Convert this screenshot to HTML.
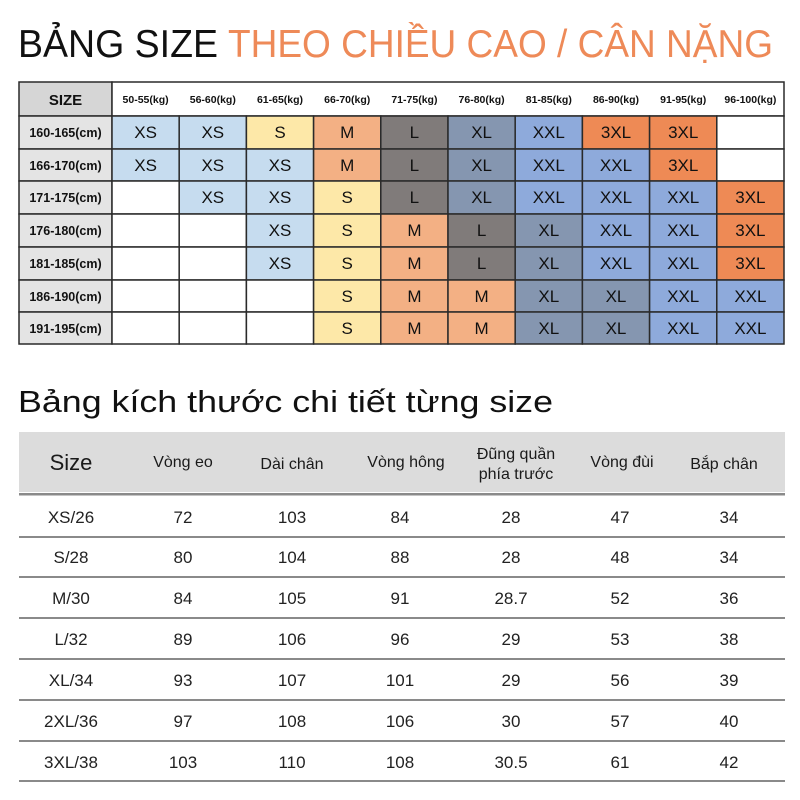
<!DOCTYPE html>
<html><head><meta charset="utf-8"><style>
html,body{margin:0;padding:0;background:#fff;width:800px;height:800px;overflow:hidden}
svg text{font-family:"Liberation Sans","DejaVu Sans",sans-serif}
</style></head><body>
<svg width="800" height="800" viewBox="0 0 800 800" xmlns="http://www.w3.org/2000/svg">
<text x="18" y="57" font-size="39" fill="#111" textLength="200" lengthAdjust="spacingAndGlyphs">BẢNG SIZE</text>
<text x="228" y="57" font-size="39" fill="#ee8a58" textLength="545" lengthAdjust="spacingAndGlyphs">THEO CHIỀU CAO / CÂN NẶNG</text>

<g stroke="#2a2a2a" stroke-width="1.5">
<rect x="19" y="82" width="93" height="34" fill="#d6d6d6"/>
<rect x="19" y="116" width="93" height="33" fill="#e4e4e4"/>
<rect x="19" y="149" width="93" height="32" fill="#e4e4e4"/>
<rect x="19" y="181" width="93" height="33" fill="#e4e4e4"/>
<rect x="19" y="214" width="93" height="33" fill="#e4e4e4"/>
<rect x="19" y="247" width="93" height="33" fill="#e4e4e4"/>
<rect x="19" y="280" width="93" height="32" fill="#e4e4e4"/>
<rect x="19" y="312" width="93" height="32" fill="#e4e4e4"/>
<rect x="112" y="82" width="672" height="34" fill="#fff"/>
</g>
<g stroke="#2a2a2a" stroke-width="1.5">
<rect x="112" y="116" width="67.2" height="33" fill="#c6dcef"/>
<rect x="179.2" y="116" width="67.2" height="33" fill="#c6dcef"/>
<rect x="246.4" y="116" width="67.2" height="33" fill="#fde8a8"/>
<rect x="313.6" y="116" width="67.2" height="33" fill="#f3b084"/>
<rect x="380.8" y="116" width="67.2" height="33" fill="#807b7a"/>
<rect x="448" y="116" width="67.2" height="33" fill="#8596b0"/>
<rect x="515.2" y="116" width="67.2" height="33" fill="#8eaadb"/>
<rect x="582.4" y="116" width="67.2" height="33" fill="#ee8a55"/>
<rect x="649.6" y="116" width="67.2" height="33" fill="#ee8a55"/>
<rect x="716.8" y="116" width="67.2" height="33" fill="#fff"/>
<rect x="112" y="149" width="67.2" height="32" fill="#c6dcef"/>
<rect x="179.2" y="149" width="67.2" height="32" fill="#c6dcef"/>
<rect x="246.4" y="149" width="67.2" height="32" fill="#c6dcef"/>
<rect x="313.6" y="149" width="67.2" height="32" fill="#f3b084"/>
<rect x="380.8" y="149" width="67.2" height="32" fill="#807b7a"/>
<rect x="448" y="149" width="67.2" height="32" fill="#8596b0"/>
<rect x="515.2" y="149" width="67.2" height="32" fill="#8eaadb"/>
<rect x="582.4" y="149" width="67.2" height="32" fill="#8eaadb"/>
<rect x="649.6" y="149" width="67.2" height="32" fill="#ee8a55"/>
<rect x="716.8" y="149" width="67.2" height="32" fill="#fff"/>
<rect x="112" y="181" width="67.2" height="33" fill="#fff"/>
<rect x="179.2" y="181" width="67.2" height="33" fill="#c6dcef"/>
<rect x="246.4" y="181" width="67.2" height="33" fill="#c6dcef"/>
<rect x="313.6" y="181" width="67.2" height="33" fill="#fde8a8"/>
<rect x="380.8" y="181" width="67.2" height="33" fill="#807b7a"/>
<rect x="448" y="181" width="67.2" height="33" fill="#8596b0"/>
<rect x="515.2" y="181" width="67.2" height="33" fill="#8eaadb"/>
<rect x="582.4" y="181" width="67.2" height="33" fill="#8eaadb"/>
<rect x="649.6" y="181" width="67.2" height="33" fill="#8eaadb"/>
<rect x="716.8" y="181" width="67.2" height="33" fill="#ee8a55"/>
<rect x="112" y="214" width="67.2" height="33" fill="#fff"/>
<rect x="179.2" y="214" width="67.2" height="33" fill="#fff"/>
<rect x="246.4" y="214" width="67.2" height="33" fill="#c6dcef"/>
<rect x="313.6" y="214" width="67.2" height="33" fill="#fde8a8"/>
<rect x="380.8" y="214" width="67.2" height="33" fill="#f3b084"/>
<rect x="448" y="214" width="67.2" height="33" fill="#807b7a"/>
<rect x="515.2" y="214" width="67.2" height="33" fill="#8596b0"/>
<rect x="582.4" y="214" width="67.2" height="33" fill="#8eaadb"/>
<rect x="649.6" y="214" width="67.2" height="33" fill="#8eaadb"/>
<rect x="716.8" y="214" width="67.2" height="33" fill="#ee8a55"/>
<rect x="112" y="247" width="67.2" height="33" fill="#fff"/>
<rect x="179.2" y="247" width="67.2" height="33" fill="#fff"/>
<rect x="246.4" y="247" width="67.2" height="33" fill="#c6dcef"/>
<rect x="313.6" y="247" width="67.2" height="33" fill="#fde8a8"/>
<rect x="380.8" y="247" width="67.2" height="33" fill="#f3b084"/>
<rect x="448" y="247" width="67.2" height="33" fill="#807b7a"/>
<rect x="515.2" y="247" width="67.2" height="33" fill="#8596b0"/>
<rect x="582.4" y="247" width="67.2" height="33" fill="#8eaadb"/>
<rect x="649.6" y="247" width="67.2" height="33" fill="#8eaadb"/>
<rect x="716.8" y="247" width="67.2" height="33" fill="#ee8a55"/>
<rect x="112" y="280" width="67.2" height="32" fill="#fff"/>
<rect x="179.2" y="280" width="67.2" height="32" fill="#fff"/>
<rect x="246.4" y="280" width="67.2" height="32" fill="#fff"/>
<rect x="313.6" y="280" width="67.2" height="32" fill="#fde8a8"/>
<rect x="380.8" y="280" width="67.2" height="32" fill="#f3b084"/>
<rect x="448" y="280" width="67.2" height="32" fill="#f3b084"/>
<rect x="515.2" y="280" width="67.2" height="32" fill="#8596b0"/>
<rect x="582.4" y="280" width="67.2" height="32" fill="#8596b0"/>
<rect x="649.6" y="280" width="67.2" height="32" fill="#8eaadb"/>
<rect x="716.8" y="280" width="67.2" height="32" fill="#8eaadb"/>
<rect x="112" y="312" width="67.2" height="32" fill="#fff"/>
<rect x="179.2" y="312" width="67.2" height="32" fill="#fff"/>
<rect x="246.4" y="312" width="67.2" height="32" fill="#fff"/>
<rect x="313.6" y="312" width="67.2" height="32" fill="#fde8a8"/>
<rect x="380.8" y="312" width="67.2" height="32" fill="#f3b084"/>
<rect x="448" y="312" width="67.2" height="32" fill="#f3b084"/>
<rect x="515.2" y="312" width="67.2" height="32" fill="#8596b0"/>
<rect x="582.4" y="312" width="67.2" height="32" fill="#8596b0"/>
<rect x="649.6" y="312" width="67.2" height="32" fill="#8eaadb"/>
<rect x="716.8" y="312" width="67.2" height="32" fill="#8eaadb"/>
</g>

<g font-weight="bold" fill="#111" text-anchor="middle">
<text x="65.5" y="105" font-size="15">SIZE</text>
<g font-size="10.5">
<text x="145.6" y="103">50-55(kg)</text><text x="212.8" y="103">56-60(kg)</text><text x="280" y="103">61-65(kg)</text><text x="347.2" y="103">66-70(kg)</text><text x="414.4" y="103">71-75(kg)</text><text x="481.6" y="103">76-80(kg)</text><text x="548.8" y="103">81-85(kg)</text><text x="616" y="103">86-90(kg)</text><text x="683.2" y="103">91-95(kg)</text><text x="750.4" y="103">96-100(kg)</text>
</g>
<g font-size="12.5">
<text x="65.5" y="137">160-165(cm)</text><text x="65.5" y="170">166-170(cm)</text><text x="65.5" y="202">171-175(cm)</text><text x="65.5" y="235">176-180(cm)</text><text x="65.5" y="268">181-185(cm)</text><text x="65.5" y="301">186-190(cm)</text><text x="65.5" y="333">191-195(cm)</text>
</g>
</g>
<g font-size="17" fill="#111" text-anchor="middle">
<text x="145.6" y="138">XS</text><text x="212.8" y="138">XS</text><text x="280" y="138">S</text><text x="347.2" y="138">M</text><text x="414.4" y="138">L</text><text x="481.6" y="138">XL</text><text x="548.8" y="138">XXL</text><text x="616" y="138">3XL</text><text x="683.2" y="138">3XL</text>
<text x="145.6" y="171">XS</text><text x="212.8" y="171">XS</text><text x="280" y="171">XS</text><text x="347.2" y="171">M</text><text x="414.4" y="171">L</text><text x="481.6" y="171">XL</text><text x="548.8" y="171">XXL</text><text x="616" y="171">XXL</text><text x="683.2" y="171">3XL</text>
<text x="212.8" y="203">XS</text><text x="280" y="203">XS</text><text x="347.2" y="203">S</text><text x="414.4" y="203">L</text><text x="481.6" y="203">XL</text><text x="548.8" y="203">XXL</text><text x="616" y="203">XXL</text><text x="683.2" y="203">XXL</text><text x="750.4" y="203">3XL</text>
<text x="280" y="236">XS</text><text x="347.2" y="236">S</text><text x="414.4" y="236">M</text><text x="481.6" y="236">L</text><text x="548.8" y="236">XL</text><text x="616" y="236">XXL</text><text x="683.2" y="236">XXL</text><text x="750.4" y="236">3XL</text>
<text x="280" y="269">XS</text><text x="347.2" y="269">S</text><text x="414.4" y="269">M</text><text x="481.6" y="269">L</text><text x="548.8" y="269">XL</text><text x="616" y="269">XXL</text><text x="683.2" y="269">XXL</text><text x="750.4" y="269">3XL</text>
<text x="347.2" y="302">S</text><text x="414.4" y="302">M</text><text x="481.6" y="302">M</text><text x="548.8" y="302">XL</text><text x="616" y="302">XL</text><text x="683.2" y="302">XXL</text><text x="750.4" y="302">XXL</text>
<text x="347.2" y="334">S</text><text x="414.4" y="334">M</text><text x="481.6" y="334">M</text><text x="548.8" y="334">XL</text><text x="616" y="334">XL</text><text x="683.2" y="334">XXL</text><text x="750.4" y="334">XXL</text>
</g>

<text x="18" y="412" font-size="31" fill="#111" textLength="535" lengthAdjust="spacingAndGlyphs">Bảng kích thước chi tiết từng size</text>

<rect x="19" y="432" width="766" height="60" fill="#dcdcdc"/>
<g fill="#8a8a8a">
<rect x="19" y="493" width="766" height="2.5"/>
<rect x="19" y="536" width="766" height="2"/>
<rect x="19" y="576" width="766" height="2"/>
<rect x="19" y="617" width="766" height="2"/>
<rect x="19" y="658" width="766" height="2"/>
<rect x="19" y="699" width="766" height="2"/>
<rect x="19" y="740" width="766" height="2"/>
<rect x="19" y="780" width="766" height="2"/>
</g>
<g fill="#1a1a1a" text-anchor="middle">
<text x="71" y="470" font-size="22">Size</text>
<g font-size="16">
<text x="183" y="467">Vòng eo</text>
<text x="292" y="469">Dài chân</text>
<text x="406" y="467">Vòng hông</text>
<text x="516" y="459">Đũng quần</text>
<text x="516" y="479">phía trước</text>
<text x="622" y="467">Vòng đùi</text>
<text x="724" y="469">Bắp chân</text>
</g>
</g>
<g fill="#222" text-anchor="middle" font-size="17">
<text x="71" y="523">XS/26</text><text x="183" y="523">72</text><text x="292" y="523">103</text><text x="400" y="523">84</text><text x="511" y="523">28</text><text x="620" y="523">47</text><text x="729" y="523">34</text>
<text x="71" y="563">S/28</text><text x="183" y="563">80</text><text x="292" y="563">104</text><text x="400" y="563">88</text><text x="511" y="563">28</text><text x="620" y="563">48</text><text x="729" y="563">34</text>
<text x="71" y="604">M/30</text><text x="183" y="604">84</text><text x="292" y="604">105</text><text x="400" y="604">91</text><text x="511" y="604">28.7</text><text x="620" y="604">52</text><text x="729" y="604">36</text>
<text x="71" y="645">L/32</text><text x="183" y="645">89</text><text x="292" y="645">106</text><text x="400" y="645">96</text><text x="511" y="645">29</text><text x="620" y="645">53</text><text x="729" y="645">38</text>
<text x="71" y="686">XL/34</text><text x="183" y="686">93</text><text x="292" y="686">107</text><text x="400" y="686">101</text><text x="511" y="686">29</text><text x="620" y="686">56</text><text x="729" y="686">39</text>
<text x="71" y="727">2XL/36</text><text x="183" y="727">97</text><text x="292" y="727">108</text><text x="400" y="727">106</text><text x="511" y="727">30</text><text x="620" y="727">57</text><text x="729" y="727">40</text>
<text x="71" y="768">3XL/38</text><text x="183" y="768">103</text><text x="292" y="768">110</text><text x="400" y="768">108</text><text x="511" y="768">30.5</text><text x="620" y="768">61</text><text x="729" y="768">42</text>
</g>
</svg>
</body></html>
